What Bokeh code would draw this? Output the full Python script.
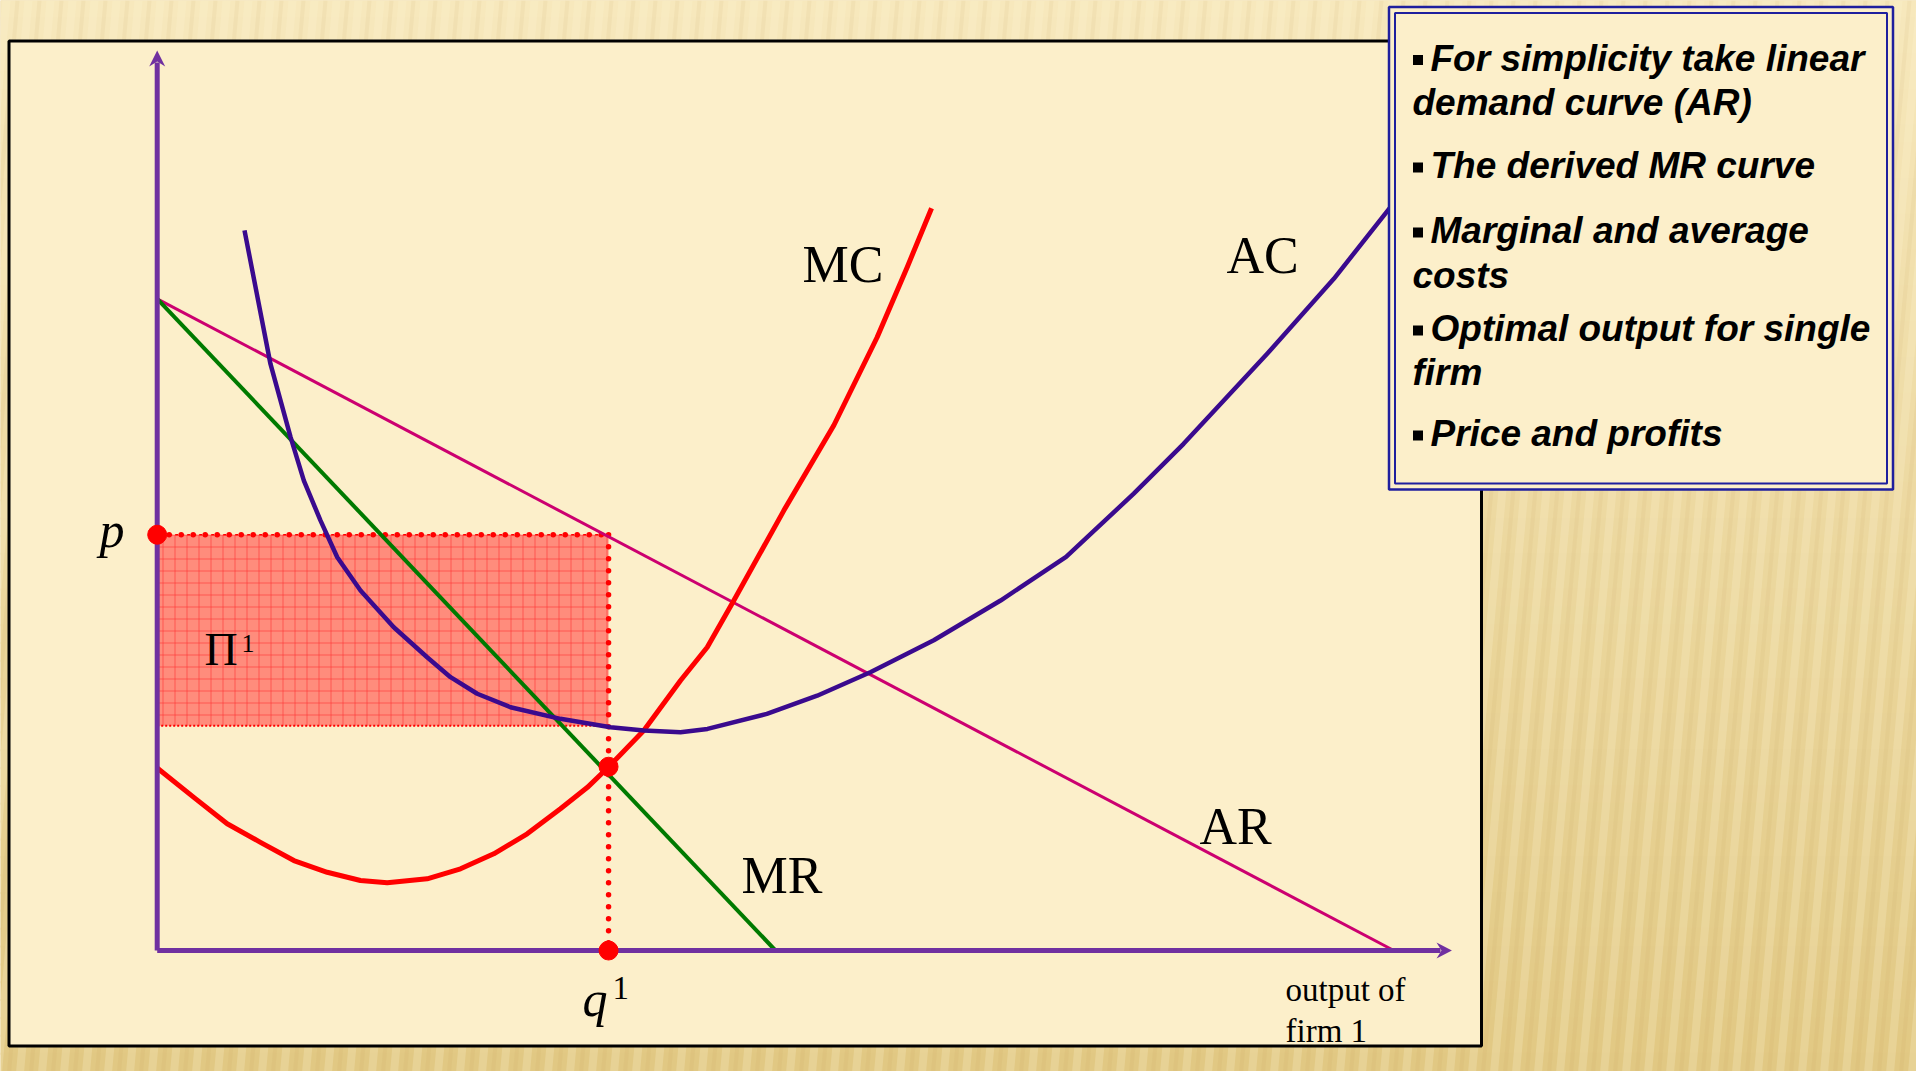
import numpy as np
from bokeh.plotting import figure
from bokeh.models import Range1d, Label, BoxAnnotation
from bokeh.embed import file_html
from bokeh.resources import INLINE

# ---------------- model values (output q, price) ----------------
# linear demand curve (average revenue) and the derived marginal revenue
ar_q = [0, 100]
ar_p = [100, 0]
mr_q = [0, 50]
mr_p = [100, 0]

# marginal cost
mc_q = [0, 2.96, 5.66, 8.35, 11.05, 13.75, 16.44, 18.6, 21.83, 24.53, 27.22,
        29.92, 32.61, 34.77, 36.52, 39.35, 42.32, 44.48, 46.63, 50.67, 54.72,
        58.22, 60.65, 62.62]
mc_p = [28.0, 23.5, 19.44, 16.6, 13.8, 12.0, 10.74, 10.4, 11.0, 12.53, 14.84,
        17.9, 21.74, 25.0, 28.2, 33.76, 41.43, 46.54, 53.7, 67.5, 80.6,
        94.1, 104.85, 113.9]

# average cost
ac_q = [7.06, 9.16, 10.78, 11.86, 13.2, 14.56, 16.44, 19.13, 21.83, 23.72, 25.88,
        28.57, 32.61, 36.66, 39.35, 42.32, 44.5, 49.3, 53.37, 57.67, 62.8, 68.2,
        73.5, 78.97, 83.0, 89.76, 95.15, 99.73]
ac_p = [110.5, 90.0, 78.8, 72.1, 66.0, 60.35, 55.24, 49.6, 45.0, 41.94, 39.4,
        37.33, 35.55, 34.26, 33.76, 33.5, 34.0, 36.3, 39.1, 42.7, 47.6, 53.7,
        60.4, 70.1, 77.75, 91.56, 103.07, 114.06]

# optimum of the single firm
q_opt = 36.5      # output where MR = MC
p_opt = 63.8
mc_opt = 28.2     # marginal cost at q_opt
ac_opt = 34.5     # average cost at q_opt

y_axis_top = 138.1
x_axis_end = 104.7

bullets = [
    ("For simplicity take linear", True),
    ("demand curve (AR)", False),
    ("The derived MR curve", True),
    ("Marginal and average", True),
    ("costs", False),
    ("Optimal output for single", True),
    ("firm", False),
    ("Price and profits", True),
]

# ---------------- canvas geometry ----------------
W, H = 1916, 1071
X0, XS = 156.7, 12.366     # pixel of q=0, pixels per unit of q
Y0, YS = 950.0, 6.517      # pixel of price=0, pixels per unit of price
BASE_SHIFT = 0.37          # em offset between requested and drawn baseline


def qx(px):
    return (px - X0) / XS


def py(px):
    return (Y0 - px) / YS


p = figure(width=W, height=H, output_backend="svg", toolbar_location=None,
           x_range=Range1d(qx(0), qx(W)), y_range=Range1d(py(H), py(0)),
           min_border=0, x_axis_location=None, y_axis_location=None)
p.grid.visible = False
p.outline_line_color = None
p.background_fill_color = "#EAD496"
p.border_fill_color = "#EAD496"


def text(x, y, s, size, font="Liberation Serif", style="normal", align="left"):
    """Place text with its baseline at pixel row y."""
    p.add_layout(Label(x=qx(x), y=py(y - BASE_SHIFT * size), text=s, text_font=font,
                       text_font_style=style, text_font_size=f"{size}px",
                       text_color="black", text_baseline="alphabetic",
                       text_align=align))


# slide background: vertical gradient with slanted grain stripes
n_bands = 60
edges = np.linspace(0, H, n_bands + 1)
top_rgb = np.array([0xF7, 0xE8, 0xBC])
bot_rgb = np.array([0xE1, 0xC8, 0x83])
band_cols = []
for i in range(n_bands):
    t = (i + 0.5) / n_bands
    c = top_rgb * (1 - t) + bot_rgb * t
    band_cols.append("#%02x%02x%02x" % tuple(int(round(v)) for v in c))
p.quad(left=qx(0), right=qx(W), top=[py(e - 1) for e in edges[:-1]],
       bottom=[py(e + 1) for e in edges[1:]], fill_color=band_cols, line_color=None)

lean = 0.09
starts = np.arange(-60, W + lean * H + 60, 22.0)
p.multi_line(xs=[[qx(s), qx(s - lean * H)] for s in starts],
             ys=[[py(0), py(H)] for _ in starts],
             line_color="#FFF6D8", line_alpha=0.22, line_width=8)
p.multi_line(xs=[[qx(s + 11), qx(s + 11 - lean * H)] for s in starts],
             ys=[[py(0), py(H)] for _ in starts],
             line_color="#B89346", line_alpha=0.07, line_width=4)

# chart panel
p.quad(left=qx(8.5), right=qx(1481), top=py(40.5), bottom=py(1045.5),
       fill_color="#FCEFCA", line_color="black", line_width=3)

# profit rectangle
p.quad(left=0, right=q_opt, top=p_opt, bottom=ac_opt,
       fill_color="#FF8C7C", line_color=None,
       hatch_pattern="cross", hatch_color="#FF3030", hatch_scale=12,
       hatch_weight=1, hatch_alpha=0.6)
p.line([0, q_opt], [p_opt, p_opt], line_color="red", line_width=1.5, line_dash="3 3")
p.line([0, q_opt], [p_opt, p_opt], line_color="red", line_width=5.5,
       line_dash="0 12", line_cap="round")
p.line([0, q_opt], [ac_opt, ac_opt], line_color="red", line_width=2, line_dash="2 2")
p.line([q_opt, q_opt], [p_opt, 0], line_color="red", line_width=5.5,
       line_dash="0 12", line_cap="round")

# revenue and cost curves
p.line(ar_q, ar_p, line_color="#CC0070", line_width=3)
p.line(mr_q, mr_p, line_color="#007A00", line_width=4)
p.line(mc_q, mc_p, line_color="#FF0000", line_width=5, line_join="round")
p.line(ac_q, ac_p, line_color="#3A0A8E", line_width=4.5, line_join="round")

# axes with arrow heads
axis_col = "#7030A0"
p.line([0, 0], [0, py(62)], line_color=axis_col, line_width=5)
p.line([0, qx(1440)], [0, 0], line_color=axis_col, line_width=5)
p.patch([0, qx(X0 - 8), 0, qx(X0 + 8)], [y_axis_top, py(66), py(61), py(66)],
        fill_color=axis_col, line_color=None)
p.patch([x_axis_end, qx(1436), qx(1441), qx(1436)], [0, py(942), 0, py(958)],
        fill_color=axis_col, line_color=None)

# key points
p.scatter([0, q_opt, q_opt], [p_opt, mc_opt, 0], size=19, color="red")

# curve labels
for s, x, y in [("MC", 802, 283), ("AC", 1226, 274), ("AR", 1199, 845), ("MR", 741, 894)]:
    text(x, y, s, 52)

text(124, 548, "p", 50, style="italic", align="right")
text(582, 1017, "q", 50, style="italic")
text(612, 1000, "1", 33)
text(204, 666, "\u03a0", 46)
text(241, 653, "1", 26)
text(1285, 1002, "output of", 33)
text(1285, 1043, "firm 1", 33)

# summary box (double rule)
navy = "#1F1F9E"
p.add_layout(BoxAnnotation(left=qx(1388.5), right=qx(1892.5), top=py(6.5), bottom=py(489),
                           fill_color="#FCEFCA", fill_alpha=1.0,
                           line_color=navy, line_width=2.5, line_alpha=1.0))
p.add_layout(BoxAnnotation(left=qx(1394.5), right=qx(1886.5), top=py(12.5), bottom=py(483),
                           fill_alpha=0.0, line_color=navy, line_width=2, line_alpha=1.0))

baselines = [71.5, 115.5, 179, 244, 289, 342, 386, 447]
for (s, has_bullet), base in zip(bullets, baselines):
    x_text = 1430 if has_bullet else 1412
    text(x_text, base, s, 37, font="Liberation Sans", style="bold italic")
    if has_bullet:
        p.add_layout(BoxAnnotation(left=qx(1412.5), right=qx(1422.5), top=py(base - 17),
                                   bottom=py(base - 7), fill_color="black", fill_alpha=1.0,
                                   line_color=None))

open("out.html", "w").write(file_html(p, INLINE))
